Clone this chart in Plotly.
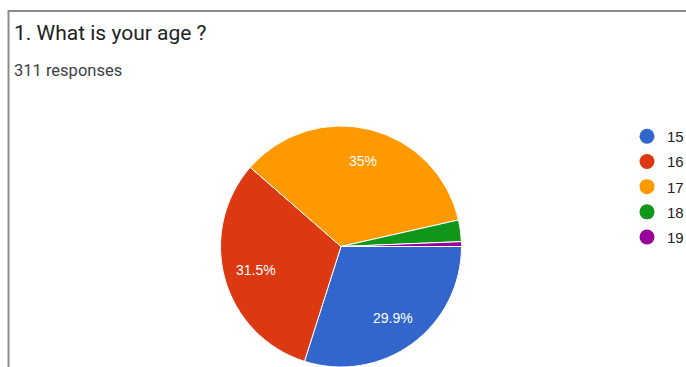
import math
import plotly.graph_objects as go

# Survey answers: "1. What is your age ?"
ages = ["15", "16", "17", "18", "19"]
counts = [93, 98, 109, 9, 2]
colors = ["#3366cc", "#dc3912", "#ff9900", "#109618", "#990099"]

total = sum(counts)


def pct_label(n):
    p = 100.0 * n / total
    if p < 5:
        return ""
    s = f"{p:.1f}"
    if s.endswith(".0"):
        s = s[:-2]
    return s + "%"


W, H = 686, 367

# Pie placement (paper fractions) and start angle (degrees clockwise from 12 o'clock)
dom_x = [220 / W, 462 / W]
dom_y = [0, 241 / H]
start_angle = 90
label_r = 0.73  # label distance as a fraction of the radius

fig = go.Figure()
fig.add_trace(go.Pie(
    labels=ages,
    values=counts,
    textinfo="none",
    marker=dict(colors=colors, line=dict(color="white", width=1)),
    sort=False,
    direction="clockwise",
    rotation=start_angle,
    showlegend=False,
    hoverinfo="label+percent",
    domain=dict(x=dom_x, y=dom_y),
))

# Percentage labels placed at the middle angle of each slice
cx = (dom_x[0] + dom_x[1]) / 2
cy = (dom_y[0] + dom_y[1]) / 2
r_px = min((dom_x[1] - dom_x[0]) * W, (dom_y[1] - dom_y[0]) * H) / 2
slice_labels = []
acc = 0.0
for c in counts:
    mid = start_angle + 360.0 * (acc + c / 2) / total
    acc += c
    txt = pct_label(c)
    if not txt:
        continue
    a = math.radians(mid)
    slice_labels.append(dict(
        text=txt, xref="paper", yref="paper",
        x=cx + label_r * r_px * math.sin(a) / W,
        y=cy + label_r * r_px * math.cos(a) / H,
        xanchor="center", yanchor="middle", showarrow=False,
        font=dict(family="Liberation Sans, Arial", size=14, color="white"),
    ))

# Circle markers for the legend
for age, col in zip(ages, colors):
    fig.add_trace(go.Scatter(
        x=[None], y=[None], mode="markers", name=age,
        legendgroup=age,
        marker=dict(color=col, size=15, symbol="circle"),
    ))

fig.update_layout(
    width=W, height=H,
    margin=dict(l=0, r=0, t=0, b=0, autoexpand=False),
    paper_bgcolor="white",
    plot_bgcolor="white",
    xaxis=dict(visible=False),
    yaxis=dict(visible=False),
    showlegend=True,
    legend=dict(
        x=627 / W, y=1 - 120 / H, xanchor="left", yanchor="top",
        font=dict(family="Liberation Sans, Arial", size=15, color="#222222"),
        tracegroupgap=2.7,
        bgcolor="rgba(0,0,0,0)",
    ),
    shapes=[
        dict(type="line", xref="paper", yref="paper",
             x0=8 / W, x1=1, y0=1 - 11 / H, y1=1 - 11 / H,
             line=dict(color="#8c8c8c", width=2)),
        dict(type="line", xref="paper", yref="paper",
             x0=8.5 / W, x1=8.5 / W, y0=0, y1=1 - 10 / H,
             line=dict(color="#8c8c8c", width=2)),
    ],
    annotations=[
        dict(text="1. What is your age ?", xref="paper", yref="paper",
             x=12 / W, y=1 - 19 / H, xanchor="left", yanchor="top",
             showarrow=False,
             font=dict(family="Roboto", size=21, color="#202124")),
        dict(text="311 responses", xref="paper", yref="paper",
             x=12 / W, y=1 - 59 / H, xanchor="left", yanchor="top",
             showarrow=False,
             font=dict(family="Roboto", size=16.5, color="#3c4043")),
    ] + slice_labels,
)

fig.write_html("out.html")
